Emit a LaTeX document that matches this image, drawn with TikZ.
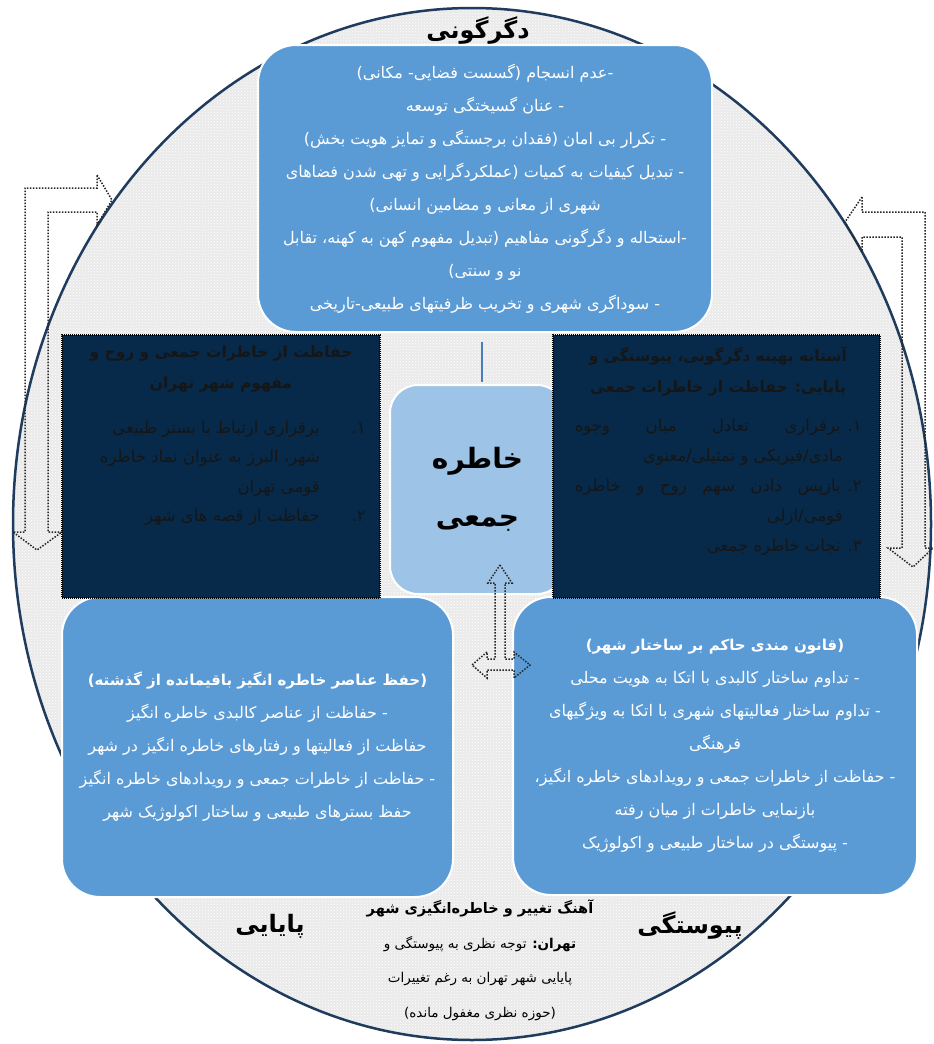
\documentclass[tikz,border=0pt]{standalone}
\usepackage{fontspec}
\usetikzlibrary{calc,patterns}
\TeXXeTstate=1
\newfontfamily\arfont[Script=Arabic]{DejaVu Sans}
\newcommand{\AR}[1]{{\arfont\beginR #1\endR}}
\definecolor{boxblue}{HTML}{5B9BD5}
\definecolor{lightblue}{HTML}{9DC3E6}
\definecolor{navy}{HTML}{072A4A}
\definecolor{ellgray}{HTML}{EAEAEA}
\definecolor{elledge}{HTML}{1F3B5E}
\definecolor{linkblue}{HTML}{4A7EBB}
\definecolor{darktext}{HTML}{161616}
\tikzset{
  bluebox/.style={draw=white, line width=2pt, fill=boxblue, rounded corners=38pt, inner sep=0pt,
    text=white, align=center, font=\arfont\fontsize{16}{33}\selectfont},
  centerbox/.style={draw=white, line width=2pt, fill=lightblue, rounded corners=28pt, inner sep=0pt,
    align=center, font=\arfont\bfseries\fontsize{28}{58}\selectfont},
  darkbox/.style={draw=black, line width=1.2pt, dash pattern=on 1pt off 1pt, fill=navy, inner sep=0pt},
  dline/.style={text=darktext, inner sep=0pt, font=\arfont\fontsize{16.5}{30}\selectfont},
  dtitle/.style={text=darktext, inner sep=0pt, align=center, font=\arfont\bfseries\fontsize{15.5}{31}\selectfont},
  dotarrow/.style={draw=black!85, line width=1.5pt, dash pattern=on 1.5pt off 1.5pt, line join=miter},
  biglabel/.style={inner sep=0pt, font=\arfont\bfseries\fontsize{24}{28}\selectfont},
  linkline/.style={draw=linkblue, line width=1.2pt}
}
\begin{document}
\begin{tikzpicture}[x=1pt,y=-1pt]
\useasboundingbox (0,0) rectangle (934,1044);
% big ellipse
\filldraw[fill=ellgray, draw=elledge, line width=2.5pt] (472,524) ellipse [x radius=459, y radius=516];
\fill[pattern=crosshatch dots, pattern color=white] (472,524) ellipse [x radius=457, y radius=514];

% bent dotted arrows
\draw[dotarrow] (97,175) -- (112,200) -- (97,225) -- (97,212) -- (48,212) -- (48,532) -- (62,532)
  -- (37,550) -- (13,532) -- (25,532) -- (25,188) -- (97,188) -- cycle;
\draw[dotarrow] (862,197) -- (845,222) -- (862,252) -- (862,237) -- (902,237) -- (902,548) -- (888,548)
  -- (913,567) -- (933,548) -- (925,548) -- (925,212) -- (862,212) -- cycle;

% top box
\node[bluebox, minimum width=454pt, minimum height=287pt] (top) at (485,188.5)
 {\AR{-عدم انسجام (گسست فضایی- مکانی)}\\
  \AR{- عنان گسیختگی توسعه}\\
  \AR{- تکرار بی امان (فقدان برجستگی و تمایز هویت بخش)}\\
  \AR{- تبدیل کیفیات به کمیات (عملکردگرایی و تهی شدن  فضاهای}\\
  \AR{شهری از معانی و مضامین انسانی)}\\
  \AR{-استحاله و دگرگونی مفاهیم (تبدیل مفهوم کهن به کهنه، تقابل}\\
  \AR{نو و سنتی)}\\
  \AR{- سوداگری شهری و تخریب ظرفیتهای طبیعی-تاریخی}};

% center box
\node[centerbox, minimum width=175pt, minimum height=209pt] (center) at (477.5,489.5)
 {\AR{خاطره}\\\AR{جمعی}};

\draw[linkline] ($(top.south)+(-3,9)$) -- ($(top.south |- center.north)+(-3,-2)$);

% bottom boxes
\node[bluebox, minimum width=391pt, minimum height=300pt] (bl) at (257.5,747)
 {{\bfseries\fontsize{15}{33}\selectfont\AR{(حفظ عناصر خاطره انگیز باقیمانده از گذشته)}}\\
  \AR{- حفاظت از عناصر کالبدی خاطره انگیز}\\
  \AR{حفاظت از فعالیتها و رفتارهای خاطره انگیز در شهر}\\
  \AR{- حفاظت از خاطرات جمعی و رویدادهای  خاطره انگیز}\\
  \AR{حفظ بسترهای طبیعی و ساختار اکولوژیک شهر}};
\node[bluebox, minimum width=404pt, minimum height=298pt] (br) at (715,746)
 {{\bfseries\fontsize{15}{33}\selectfont\AR{(قانون مندی حاکم بر ساختار شهر)}}\\
  \AR{- تداوم ساختار کالبدی با اتکا به هویت محلی}\\
  \AR{- تداوم ساختار فعالیتهای شهری با اتکا به ویژگیهای}\\
  \AR{فرهنگی}\\
  \AR{- حفاظت از خاطرات جمعی و رویدادهای  خاطره انگیز،}\\
  \AR{بازنمایی  خاطرات از میان رفته}\\
  \AR{- پیوستگی در ساختار طبیعی و اکولوژیک}};

% dark boxes
\node[darkbox, minimum width=318pt, minimum height=263pt] (dl) at (221,466.5) {};
\node[darkbox, minimum width=327pt, minimum height=263pt] (dr) at (716.5,466.5) {};

% left dark box text
\node[dtitle, anchor=north] (dlt) at (221,346)
 {\AR{حفاظت از خاطرات جمعی و روح و}\\\AR{مفهوم شهر تهران}};
\node[dline, anchor=base east] (dl1n) at (366,433) {\AR{۱.}};
\node[dline, anchor=base east] (dl1a) at (320,433) {\AR{برقراری ارتباط با بستر طبیعی}};
\node[dline, anchor=base east] (dl1b) at (320,462) {\AR{شهر، البرز به عنوان نماد خاطره}};
\node[dline, anchor=base east] (dl1c) at (320,492) {\AR{قومی تهران}};
\node[dline, anchor=base east] (dl2n) at (366,521) {\AR{۲.}};
\node[dline, anchor=base east] (dl2a) at (320,521) {\AR{حفاظت از قصه های شهر}};

% right dark box text
\node[dtitle, anchor=north] (drt) at (718,346)
 {\AR{آستانه بهینه دگرگونی، پیوستگی و}\\\AR{پایایی: حفاظت از خاطرات جمعی}};
\node[dline, anchor=base east] (dr1a) at (862,431)
 {\hbox to 287pt{\arfont\beginR ۱. برقراری\hfill تعادل\hfill میان\hfill وجوه\endR}};
\node[dline, anchor=base east] (dr1b) at (843,461) {\AR{مادی/فیزیکی و تمثیلی/معنوی}};
\node[dline, anchor=base east] (dr2a) at (862,491)
 {\hbox to 287pt{\arfont\beginR ۲. بازپس\hfill دادن\hfill سهم\hfill روح\hfill و\hfill خاطره\endR}};
\node[dline, anchor=base east] (dr2b) at (843,521) {\AR{قومی/ازلی}};
\node[dline, anchor=base east] (dr3a) at (862,551) {\AR{۳. نجات خاطره جمعی}};

% up / left-right dotted arrow
\draw[dotarrow] (500,565) -- (512,583) -- (505,583) -- (505,659) -- (514,659) -- (514,652) -- (530,665)
  -- (514,678) -- (514,670) -- (487,670) -- (487,678) -- (472,665) -- (487,652) -- (487,659)
  -- (495,659) -- (495,583) -- (488,583) -- cycle;

% labels
\node[biglabel] (lt) at (478,31) {\AR{دگرگونی}};
\node[biglabel] (lp) at (270,926) {\AR{پایایی}};
\node[biglabel] (lv) at (690,926) {\AR{پیوستگی}};

\node[inner sep=0pt, align=center, font=\arfont\fontsize{13.5}{34.5}\selectfont] (bt) at (480,960)
 {{\bfseries\fontsize{14.5}{34.5}\selectfont\AR{آهنگ تغییر و خاطره‌انگیزی شهر}}\\
  \AR{{\bfseries تهران:} توجه نظری به پیوستگی و}\\
  \AR{پایایی شهر تهران به رغم تغییرات}\\
  \AR{(حوزه نظری مغفول مانده)}};
\end{tikzpicture}
\end{document}
